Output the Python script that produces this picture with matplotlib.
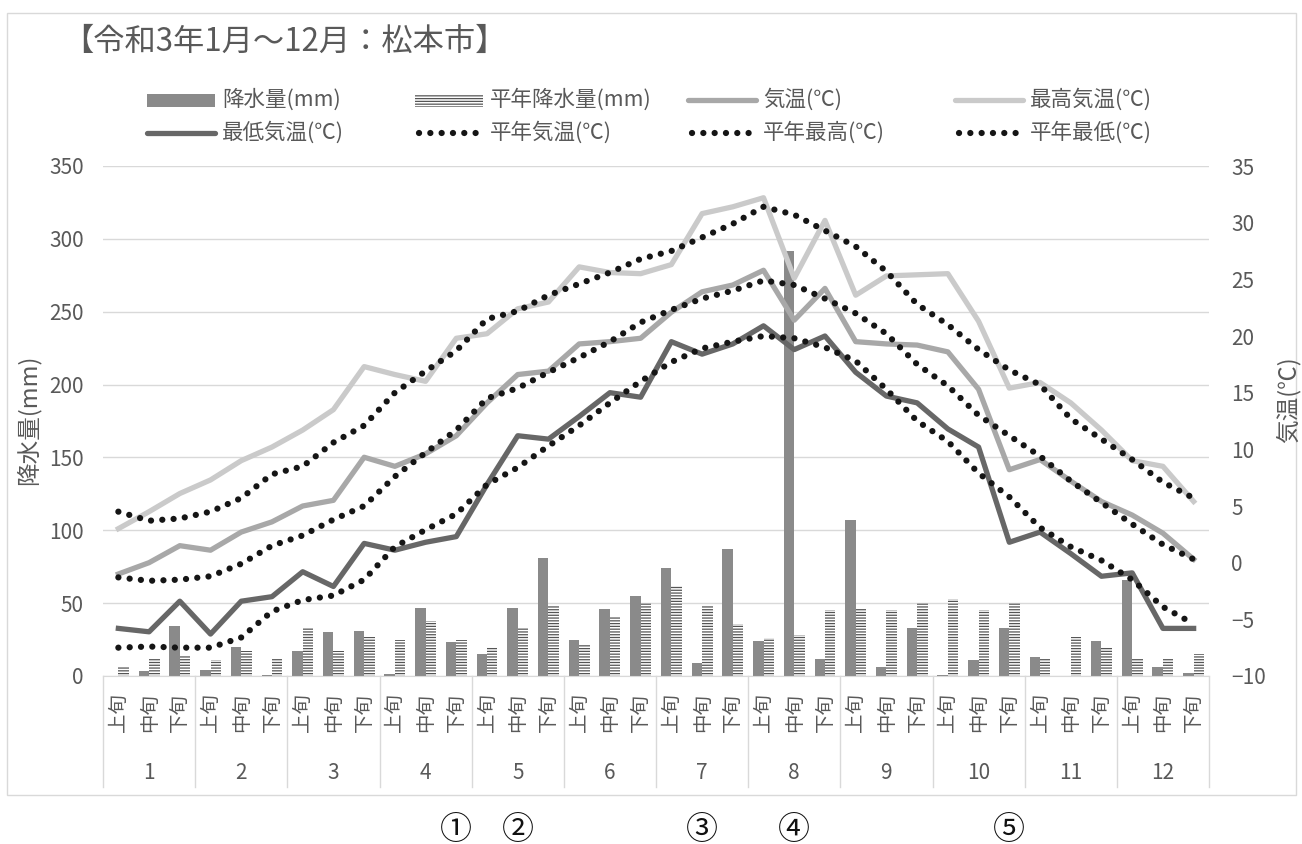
"""
松本市 令和3年 旬別 降水量・気温グラフの再現
"""
import matplotlib
matplotlib.use('Agg')
import matplotlib.pyplot as plt
import matplotlib.transforms as mtransforms
from matplotlib.lines import Line2D
from matplotlib.patches import Rectangle
import numpy as np

plt.rcParams['font.family'] = ['Noto Sans CJK JP', 'DejaVu Sans']
plt.rcParams['hatch.linewidth'] = 0.9

# ── Data ──────────────────────────────────────────────────────────────────────
months = [str(m) for m in range(1, 13)]
dekads = ['上旬', '中旬', '下旬']

precip = [0, 3.5, 34, 4, 20, 0.5, 17, 30, 31, 1.5, 47, 23,
          15, 47, 81, 25, 46, 55, 74, 9, 87, 24, 292, 12,
          107, 6.5, 33, 1, 11, 33, 13, 0, 24, 66, 6, 2]
precip_normal = [6, 12, 14, 11, 17, 12, 33, 17, 27, 25, 38, 25,
                 20, 33, 48, 22, 41, 50, 62, 48, 36, 26, 28, 45,
                 47, 45, 50, 53, 45, 50, 12, 27, 20, 12, 12, 15]

temp = [-1.0, 0.0, 1.5, 1.1, 2.7, 3.6, 5.0, 5.5, 9.3, 8.5, 9.6, 11.2,
        14.1, 16.6, 16.9, 19.3, 19.5, 19.8, 22.1, 23.9, 24.5, 25.8, 21.4, 24.2,
        19.5, 19.3, 19.2, 18.6, 15.3, 8.2, 9.1, 7.2, 5.4, 4.2, 2.6, 0.3]
temp_max = [3.0, 4.5, 6.1, 7.3, 9.0, 10.2, 11.7, 13.5, 17.3, 16.6, 16.0, 19.8,
            20.2, 22.4, 23.0, 26.1, 25.6, 25.5, 26.3, 30.8, 31.4, 32.2, 25.1, 30.2,
            23.6, 25.3, 25.4, 25.5, 21.3, 15.4, 15.9, 14.1, 11.7, 9.0, 8.5, 5.4]
temp_min = [-5.8, -6.1, -3.4, -6.3, -3.4, -3.0, -0.8, -2.1, 1.7, 1.1, 1.8, 2.3,
            6.9, 11.2, 10.9, 12.9, 15.0, 14.6, 19.5, 18.4, 19.3, 20.9, 18.8, 20.0,
            16.8, 14.7, 14.1, 11.8, 10.2, 1.8, 2.7, 0.8, -1.2, -0.9, -5.8, -5.8]

normal_mean = [-1.3, -1.6, -1.5, -1.2, -0.1, 1.5, 2.4, 3.8, 5.0, 7.6, 9.7, 11.7,
               14.5, 15.4, 16.8, 18.1, 19.5, 21.2, 22.3, 23.3, 24.0, 24.9, 24.5, 23.3,
               22.0, 20.2, 17.5, 15.6, 13.0, 11.2, 9.4, 7.2, 5.3, 3.4, 1.6, 0.3]
normal_max = [4.5, 3.7, 3.9, 4.5, 5.7, 7.8, 8.5, 10.6, 12.1, 15.0, 16.9, 18.7,
              21.5, 22.2, 23.6, 24.6, 25.6, 26.8, 27.5, 28.7, 29.9, 31.4, 30.7, 29.3,
              27.9, 25.7, 22.8, 21.0, 18.8, 17.0, 15.7, 12.7, 10.9, 9.1, 7.1, 5.7]
normal_min = [-7.5, -7.4, -7.5, -7.5, -6.6, -4.3, -3.3, -2.9, -1.5, 1.4, 2.9, 4.3,
              6.9, 8.4, 10.3, 12.1, 14.1, 16.0, 17.7, 18.9, 19.5, 20.0, 19.8, 19.0,
              17.8, 15.3, 12.5, 10.7, 7.9, 5.8, 3.1, 1.4, 0.2, -1.5, -3.9, -5.4]

marks = ['①', '②', '③', '④', '⑤']
mark_dekad = [11, 13, 19, 22, 29]

title = '【令和3年1月～12月：松本市】'

# ── Styles ────────────────────────────────────────────────────────────────────
text_c = '#595959'
grid_c = '#d9d9d9'
bar_c = '#8a8a8a'
hatch_c = '#555555'
temp_c = '#a8a8a8'
max_c = '#cacaca'
min_c = '#676767'
dot_c = '#151515'
line_w = 3.8
dot_style = dict(color=dot_c, lw=4.5, linestyle=(0, (0.01, 1.8)),
                 dash_capstyle='round')

W, H = 1302, 844
fig = plt.figure(figsize=(W / 100, H / 100), dpi=100)
fig.patch.set_facecolor('white')

ax_l, ax_r, ax_t, ax_b = 103, 1209, 166, 676
ax = fig.add_axes([ax_l / W, 1 - ax_b / H, (ax_r - ax_l) / W, (ax_b - ax_t) / H])
ax_h = ax_b - ax_t

x = np.arange(len(precip))

# ── Bars ──────────────────────────────────────────────────────────────────────
ax.bar(x - 0.17, precip, width=0.34, color=bar_c, zorder=2)
ax.bar(x + 0.17, precip_normal, width=0.34, facecolor='white',
       edgecolor=hatch_c, hatch='------', linewidth=0, zorder=2)

ax.set_xlim(-0.5, len(x) - 0.5)
ax.set_ylim(0, 350)
ax.set_yticks(range(0, 351, 50))
ax.yaxis.grid(True, color=grid_c, lw=1)
ax.set_axisbelow(True)
for side in ('top', 'left', 'right'):
    ax.spines[side].set_visible(False)
ax.spines['bottom'].set_color(grid_c)
ax.tick_params(axis='y', length=0, pad=14, labelsize=15, labelcolor=text_c)
ax.set_xticks(x)
ax.set_xticklabels(dekads * 12, rotation=90, fontsize=14, color=text_c)
ax.tick_params(axis='x', length=0, pad=12)

# ── Temperature lines ─────────────────────────────────────────────────────────
ax2 = ax.twinx()
ax2.plot(x, temp, color=temp_c, lw=line_w, zorder=3)
ax2.plot(x, temp_max, color=max_c, lw=line_w, zorder=3)
ax2.plot(x, temp_min, color=min_c, lw=line_w, zorder=3)
ax2.plot(x, normal_mean, zorder=4, **dot_style)
ax2.plot(x, normal_max, zorder=4, **dot_style)
ax2.plot(x, normal_min, zorder=4, **dot_style)
ax2.set_ylim(-10, 35)
ax2.set_yticks(range(-10, 36, 5))
for sp in ax2.spines.values():
    sp.set_visible(False)
ax2.tick_params(axis='y', length=0, pad=16, labelsize=15, labelcolor=text_c)

# axis titles placed in figure pixels
fig.text(28 / W, 1 - 420 / H, '降水量(mm)', rotation=90, fontsize=17,
         color=text_c, ha='center', va='center')
fig.text(1288 / W, 1 - 400 / H, '気温(℃)', rotation=90, fontsize=17,
         color=text_c, ha='center', va='center')

# ── Two-level category axis ───────────────────────────────────────────────────
trans = mtransforms.blended_transform_factory(ax.transData, ax.transAxes)
box_bottom = (ax_b - 787) / ax_h
for m in range(13):
    ax.plot([3 * m - 0.5] * 2, [0, box_bottom], transform=trans,
            color=grid_c, lw=1, clip_on=False)
for m, lab in enumerate(months):
    ax.text(3 * m + 1, (ax_b - 773) / ax_h, lab, transform=trans,
            ha='center', va='center', fontsize=15, color=text_c)

for mk, d in zip(marks, mark_dekad):
    ax.text(d, (ax_b - 830) / ax_h, mk, transform=trans, ha='center',
            va='center', fontsize=23, color='#111111')

# ── Title and outer frame ─────────────────────────────────────────────────────
fig.text(62 / W, 1 - 42 / H, title, fontsize=22.5, color=text_c,
         ha='left', va='center')
fig.add_artist(Rectangle((7 / W, 1 - 795 / H), (1296 - 7) / W, (795 - 13) / H,
                         transform=fig.transFigure, fill=False,
                         edgecolor=grid_c, lw=1))

# ── Legend (drawn by hand to keep Excel-like equal columns) ───────────────────
legend_items = [
    ('bar', '降水量(mm)'), ('hatch', '平年降水量(mm)'),
    ('temp', '気温(℃)'), ('max', '最高気温(℃)'),
    ('min', '最低気温(℃)'), ('dot', '平年気温(℃)'),
    ('dot', '平年最高(℃)'), ('dot', '平年最低(℃)'),
]
col_x = [147, 415, 688, 955]
row_y = [100, 133]
hlen = 68
for i, (kind, lab) in enumerate(legend_items):
    x0 = col_x[i % 4]
    y0 = row_y[i // 4]
    fx0, fx1, fy = x0 / W, (x0 + hlen) / W, 1 - y0 / H
    if kind in ('bar', 'hatch'):
        rh = 13 / H
        if kind == 'bar':
            r = Rectangle((fx0, fy - rh / 2), hlen / W, rh, facecolor=bar_c,
                          lw=0, transform=fig.transFigure)
        else:
            r = Rectangle((fx0, fy - rh / 2), hlen / W, rh, facecolor='white',
                          edgecolor=hatch_c, hatch='------', lw=0,
                          transform=fig.transFigure)
        fig.add_artist(r)
    elif kind == 'dot':
        fig.add_artist(Line2D([fx0 + 4 / W, fx1 - 4 / W], [fy, fy],
                              transform=fig.transFigure, **dot_style))
    else:
        col = {'temp': temp_c, 'max': max_c, 'min': min_c}[kind]
        fig.add_artist(Line2D([fx0, fx1], [fy, fy], color=col, lw=line_w,
                              solid_capstyle='round',
                              transform=fig.transFigure))
    fig.text((x0 + hlen + 7) / W, fy, lab, fontsize=15.5, color=text_c,
             ha='left', va='center')

fig.savefig('out.png', dpi=100, facecolor='white')
